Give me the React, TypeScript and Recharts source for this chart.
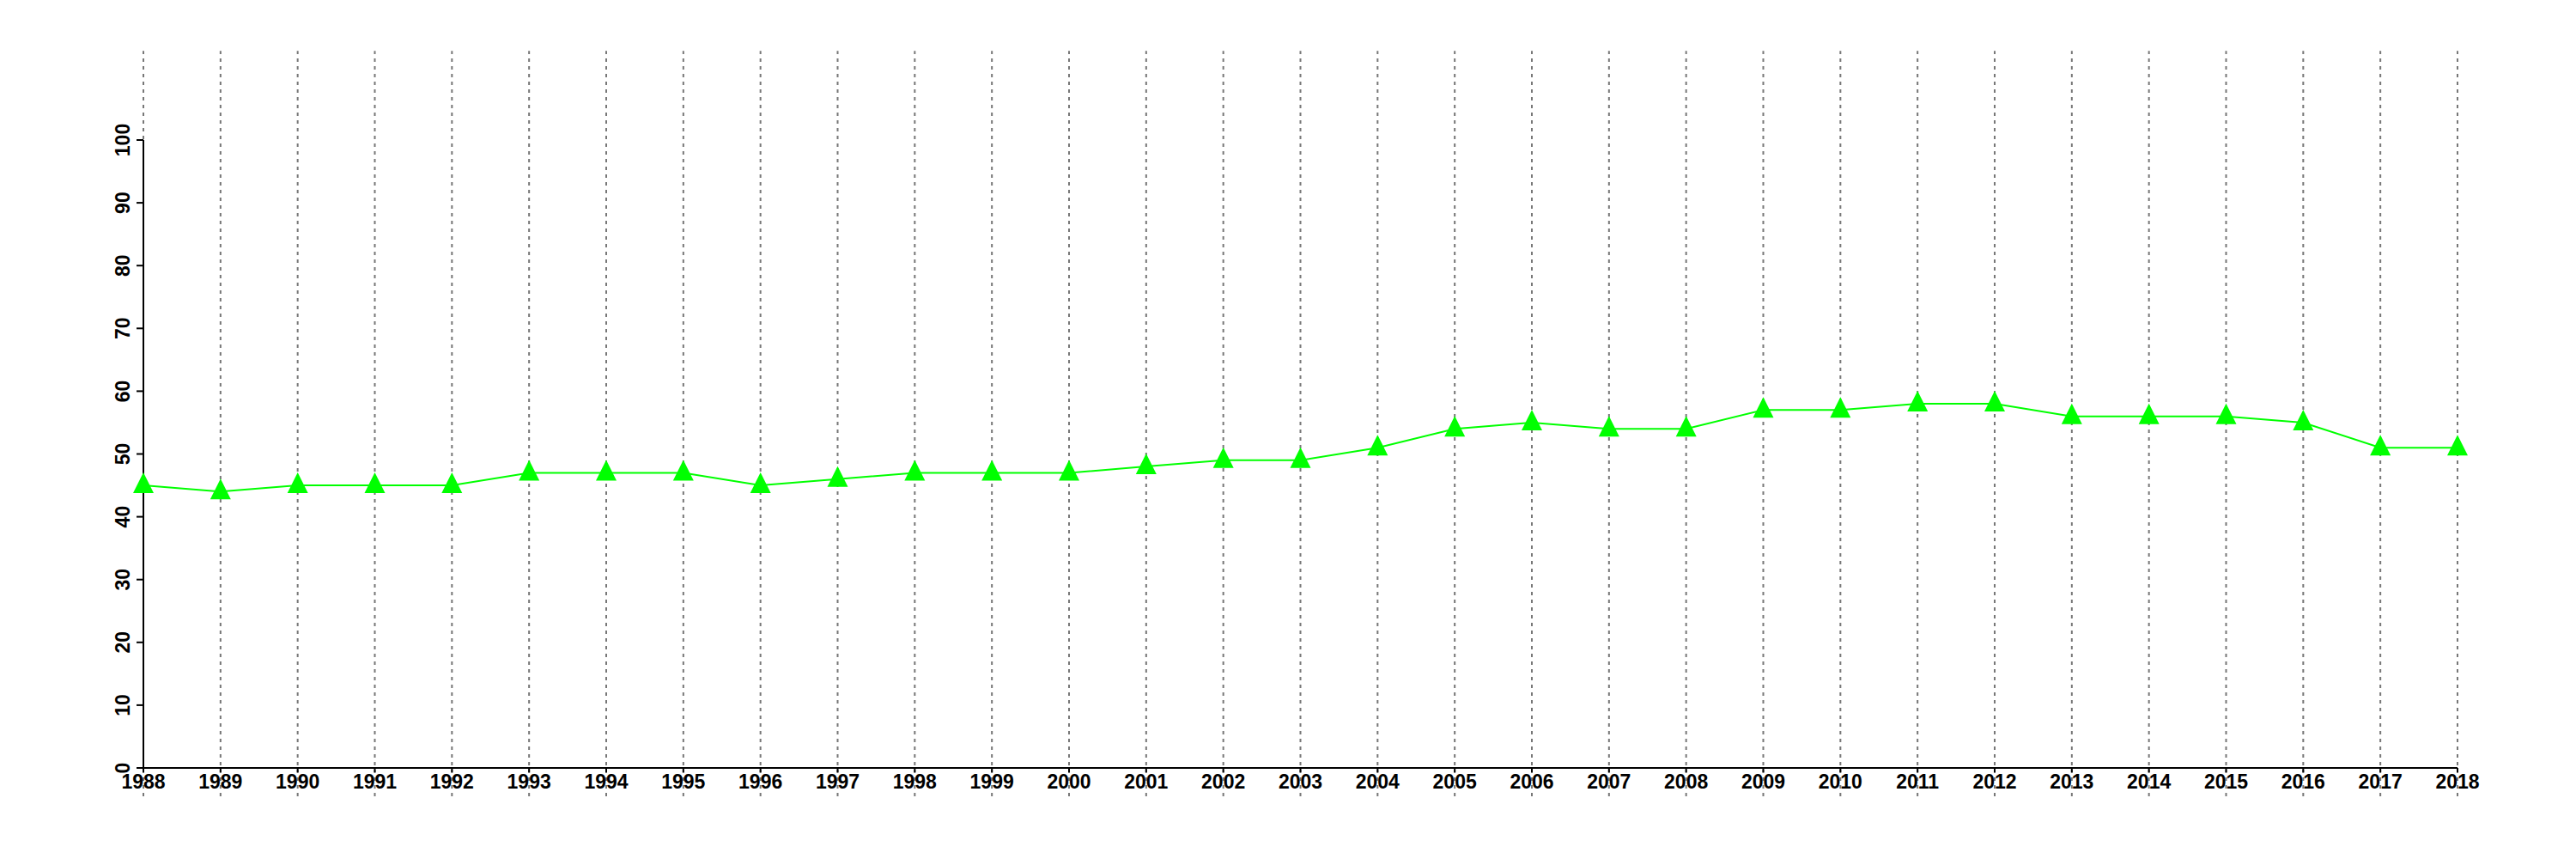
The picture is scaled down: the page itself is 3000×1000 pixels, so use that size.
import {
  LineChart,
  Line,
  XAxis,
  YAxis,
  ReferenceLine,
} from 'recharts';

const years = [
  1988, 1989, 1990, 1991, 1992, 1993, 1994, 1995, 1996, 1997, 1998,
  1999, 2000, 2001, 2002, 2003, 2004, 2005, 2006, 2007, 2008, 2009,
  2010, 2011, 2012, 2013, 2014, 2015, 2016, 2017, 2018,
];
const values = [
  45, 44, 45, 45, 45, 47, 47, 47, 45, 46, 47,
  47, 47, 48, 49, 49, 51, 54, 55, 54, 54, 57,
  57, 58, 58, 56, 56, 56, 55, 51, 51,
];
const yTicks = [0, 10, 20, 30, 40, 50, 60, 70, 80, 90, 100];

const data = years.map((year, i) => ({year, value: values[i]}));

const FONT = '"Liberation Sans", Arial, sans-serif';

// triangle marker like R's pch 17
const Triangle = (props: any) => {
  const {cx, cy} = props;
  if (cx == null || cy == null) return null;
  return (
    <path
      d={`M${cx},${cy - 15} L${cx + 12},${cy + 9} L${cx - 12},${cy + 9} Z`}
      fill="#00ff00"
      stroke="none"
    />
  );
};

const YTick = (props: any) => {
  const {x, y, payload} = props;
  return (
    <text
      transform={`translate(${x - 1},${y}) rotate(-90)`}
      textAnchor="middle"
      fontFamily={FONT}
      fontWeight="bold"
      fontSize={23}
      fill="#000"
    >
      {payload.value}
    </text>
  );
};

const App = () => {
  return (
    <div style={{position: 'absolute', left: 0, top: 0, width: 3000, height: 1000, background: '#fff'}}>
      <LineChart
        width={3000}
        height={1000}
        data={data}
        margin={{top: 163, right: 138, bottom: 76, left: 0}}
      >
        {/* vertical dotted guides, running past the axes */}
        {years.map((yr) => (
          <ReferenceLine
            key={yr}
            segment={[{x: yr, y: -4.5}, {x: yr, y: 114.2}]}
            stroke="#777"
            strokeWidth={2}
            strokeDasharray="4 5"
            ifOverflow="visible"
          />
        ))}
        <XAxis
          type="number"
          dataKey="year"
          domain={[1988, 2018]}
          ticks={years}
          interval={0}
          height={30}
          tickSize={5}
          tickMargin={3}
          axisLine={{stroke: '#000', strokeWidth: 2}}
          tickLine={{stroke: '#000', strokeWidth: 2}}
          tick={{fill: '#000', fontFamily: FONT, fontWeight: 'bold', fontSize: 23}}
        />
        <YAxis
          type="number"
          domain={[0, 100]}
          ticks={yTicks}
          interval={0}
          width={167}
          tickSize={8}
          tickMargin={7}
          axisLine={{stroke: '#000', strokeWidth: 2}}
          tickLine={{stroke: '#000', strokeWidth: 2}}
          tick={<YTick />}
        />
        <Line
          type="linear"
          dataKey="value"
          stroke="#00ff00"
          strokeWidth={2}
          dot={<Triangle />}
          activeDot={false}
          isAnimationActive={false}
        />
      </LineChart>
    </div>
  );
};

export default App;
